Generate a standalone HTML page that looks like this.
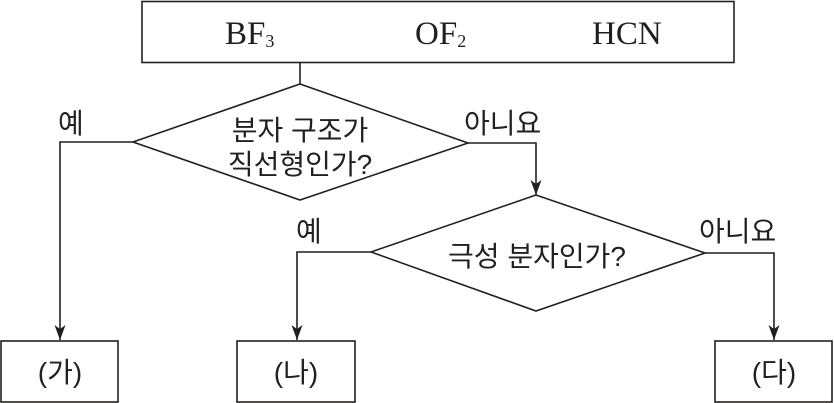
<!DOCTYPE html>
<html><head><meta charset="utf-8"><style>
html,body{margin:0;padding:0;background:#fff;}
svg{display:block;}
.k{font-family:"Liberation Sans","Noto Sans CJK KR",sans-serif;font-size:28px;fill:#231f20;}
.s{font-family:"Liberation Serif",serif;font-size:33px;fill:#231f20;}
</style></head><body>
<svg width="834" height="403" viewBox="0 0 834 403" xmlns="http://www.w3.org/2000/svg">
<defs><marker id="a" markerWidth="16" markerHeight="12" refX="15" refY="5.5" orient="auto" markerUnits="userSpaceOnUse">
<path d="M0,0 L15,5.5 L0,11 L4,5.5 Z" fill="#231f20"/></marker></defs>
<g fill="none" stroke="#231f20" stroke-width="1.6">
<rect x="142" y="1.5" width="592" height="61"/>
<line x1="300" y1="62" x2="300" y2="84"/>
<polygon points="300,84 468,143 300,200 133,142"/>
<polyline points="133,142 60,142 60,340" marker-end="url(#a)"/>
<polyline points="468,143 536,143 536,195" marker-end="url(#a)"/>
<polygon points="536,195 705,253 536,311 371,252"/>
<polyline points="371,252 297,252 297,340" marker-end="url(#a)"/>
<polyline points="705,253 774,253 774,340" marker-end="url(#a)"/>
<rect x="1" y="341" width="117" height="61"/>
<rect x="237" y="341" width="118" height="61"/>
<rect x="715" y="341" width="117" height="61"/>
</g>
<text class="s" x="225" y="44">BF<tspan font-size="18" dy="3">3</tspan></text>
<text class="s" x="415" y="44">OF<tspan font-size="18" dy="3">2</tspan></text>
<text class="s" x="592" y="44">HCN</text>
<text class="k" x="300" y="140" text-anchor="middle">분자 구조가</text>
<text class="k" x="300" y="174" text-anchor="middle">직선형인가?</text>
<text class="k" x="537" y="266" text-anchor="middle">극성 분자인가?</text>
<text class="k" x="58" y="133">예</text>
<text class="k" x="464" y="133">아니요</text>
<text class="k" x="296" y="241">예</text>
<text class="k" x="699" y="241">아니요</text>
<text class="k" x="60" y="382" text-anchor="middle">(가)</text>
<text class="k" x="296" y="382" text-anchor="middle">(나)</text>
<text class="k" x="774" y="382" text-anchor="middle">(다)</text>
</svg>
</body></html>
